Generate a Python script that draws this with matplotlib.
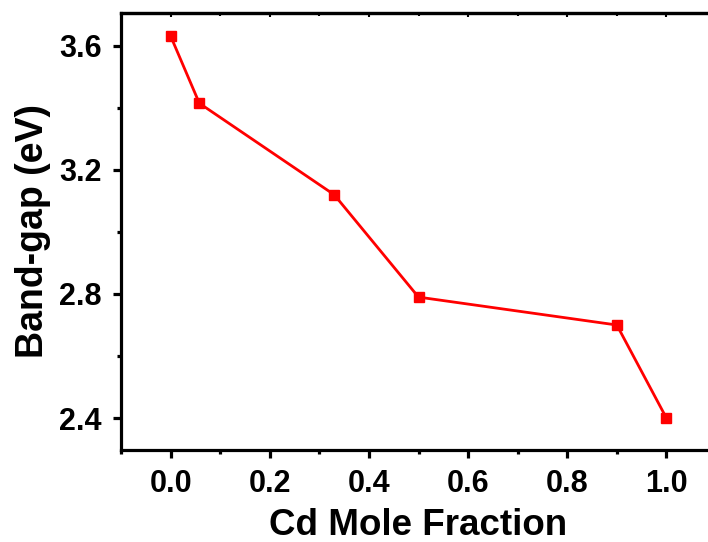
import matplotlib
matplotlib.use("Agg")
import matplotlib.pyplot as plt
from matplotlib.ticker import MultipleLocator

x_vals = [0.0, 0.058, 0.33, 0.50, 0.90, 1.00]
bandgap = [3.632, 3.415, 3.12, 2.79, 2.70, 2.40]
xticks = [0.0, 0.2, 0.4, 0.6, 0.8, 1.0]
yticks = [2.4, 2.8, 3.2, 3.6]

plt.rcParams['font.family'] = ['Liberation Sans', 'DejaVu Sans']
plt.rcParams['font.weight'] = 'bold'

fig = plt.figure(figsize=(7.08, 5.42), dpi=100)
W, H = 708, 542
left, right, bottom, top = 121, 716, 450, 13
ax = fig.add_axes([left / W, 1 - bottom / H, (right - left) / W, (bottom - top) / H])

ax.plot(x_vals, bandgap, color='#ff0000', lw=2.0, marker='s', ms=7, mec='#ff0000', mfc='#ff0000', clip_on=False)

ax.set_xlim(-0.1, 1.1)
ax.set_ylim(2.297, 3.706)
ax.set_xticks(xticks)
ax.set_yticks(yticks)
ax.set_xticklabels([f"{v:.1f}" for v in xticks])
ax.set_yticklabels([f"{v:.1f}" for v in yticks])
ax.xaxis.set_minor_locator(MultipleLocator(0.1))
ax.yaxis.set_minor_locator(MultipleLocator(0.2))

for s in ax.spines.values():
    s.set_linewidth(2.3)
ax.spines['right'].set_visible(False)
ax.tick_params(axis='both', which='major', direction='out', length=6, width=2.3, labelsize=22, pad=8)
ax.tick_params(axis='both', which='minor', direction='out', length=3, width=2.3)
ax.tick_params(axis='x', which='both', top=False)

# top inward ticks via secondary axis
sec = ax.secondary_xaxis('top')
sec.set_xticks(xticks)
sec.xaxis.set_minor_locator(MultipleLocator(0.1))
sec.tick_params(which='major', direction='in', length=3, width=1.5, labeltop=False)
sec.tick_params(which='minor', direction='in', length=2, width=1.5)
sec.spines['top'].set_linewidth(2.3)

ax.set_xlabel('Cd Mole Fraction', fontsize=26.5, fontweight='bold', labelpad=6)
ax.set_ylabel('Band-gap (eV)', fontsize=27, fontweight='bold', labelpad=6)

fig.savefig('out.png', dpi=100)
